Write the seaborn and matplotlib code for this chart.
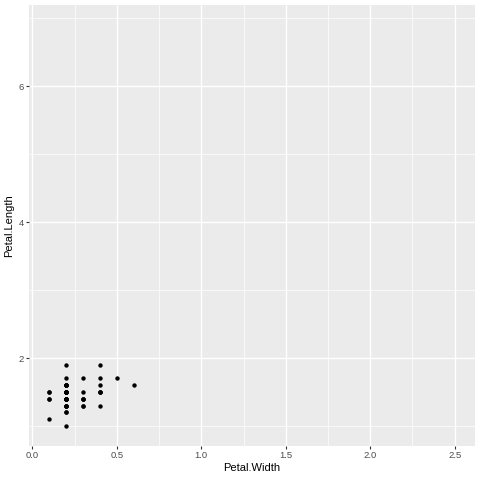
import matplotlib
matplotlib.use("Agg")
import matplotlib.pyplot as plt
import seaborn as sns
import pandas as pd
from matplotlib.ticker import MultipleLocator

# iris setosa petal measurements
petal_width = [0.2, 0.2, 0.2, 0.2, 0.2, 0.4, 0.3, 0.2, 0.2, 0.1, 0.2, 0.2, 0.1, 0.1, 0.2, 0.4, 0.4,
               0.3, 0.3, 0.3, 0.2, 0.4, 0.2, 0.5, 0.2, 0.2, 0.4, 0.2, 0.2, 0.2, 0.2, 0.4, 0.1, 0.2,
               0.2, 0.2, 0.2, 0.1, 0.2, 0.2, 0.3, 0.3, 0.2, 0.6, 0.4, 0.3, 0.2, 0.2, 0.2, 0.2]
petal_length = [1.4, 1.4, 1.3, 1.5, 1.4, 1.7, 1.4, 1.5, 1.4, 1.5, 1.5, 1.6, 1.4, 1.1, 1.2, 1.5, 1.3,
                1.4, 1.7, 1.5, 1.7, 1.5, 1.0, 1.7, 1.9, 1.6, 1.6, 1.5, 1.4, 1.6, 1.6, 1.5, 1.5, 1.4,
                1.5, 1.2, 1.3, 1.4, 1.3, 1.5, 1.3, 1.3, 1.3, 1.6, 1.9, 1.4, 1.6, 1.4, 1.5, 1.4]
# scale limits come from the full iris data
width_range = [0.1, 2.5]
length_range = [1.0, 6.9]

df = pd.DataFrame({"Petal.Width": petal_width, "Petal.Length": petal_length})

sns.set_theme(style="darkgrid", rc={"axes.facecolor": "#EBEBEB", "grid.color": "white"})
plt.rcParams["font.family"] = ["Liberation Sans", "DejaVu Sans"]

fig = plt.figure(figsize=(4.8, 4.8), dpi=100)
ax = fig.add_axes([29/480, 34/480, 446/480, 441/480])
sns.scatterplot(data=df, x="Petal.Width", y="Petal.Length", color="black", s=10,
                linewidth=0, ax=ax)

# ggplot style 5% expansion
xs = (width_range[1] - width_range[0]) * 0.05
ys = (length_range[1] - length_range[0]) * 0.05
ax.set_xlim(width_range[0] - xs, width_range[1] + xs)
ax.set_ylim(length_range[0] - ys, length_range[1] + ys)

ax.xaxis.set_major_locator(MultipleLocator(0.5))
ax.xaxis.set_minor_locator(MultipleLocator(0.25))
ax.yaxis.set_major_locator(MultipleLocator(2))
ax.yaxis.set_minor_locator(MultipleLocator(1))
ax.xaxis.set_major_formatter(matplotlib.ticker.FormatStrFormatter("%.1f"))
ax.yaxis.set_major_formatter(matplotlib.ticker.FormatStrFormatter("%d"))

ax.grid(which="major", color="white", linewidth=1.0)
ax.grid(which="minor", color="white", linewidth=0.5)
for s in ax.spines.values():
    s.set_visible(False)

ax.tick_params(which="major", length=2, width=0.8, color="#333333", labelcolor="#4D4D4D",
               labelsize=6.8, pad=1.5, bottom=True, left=True)
ax.tick_params(which="minor", length=0, bottom=False, left=False)
ax.set_xlabel("Petal.Width", fontsize=8, color="black", labelpad=2)
ax.set_ylabel("Petal.Length", fontsize=8, color="black", labelpad=3)

fig.savefig("out.png", dpi=100)
